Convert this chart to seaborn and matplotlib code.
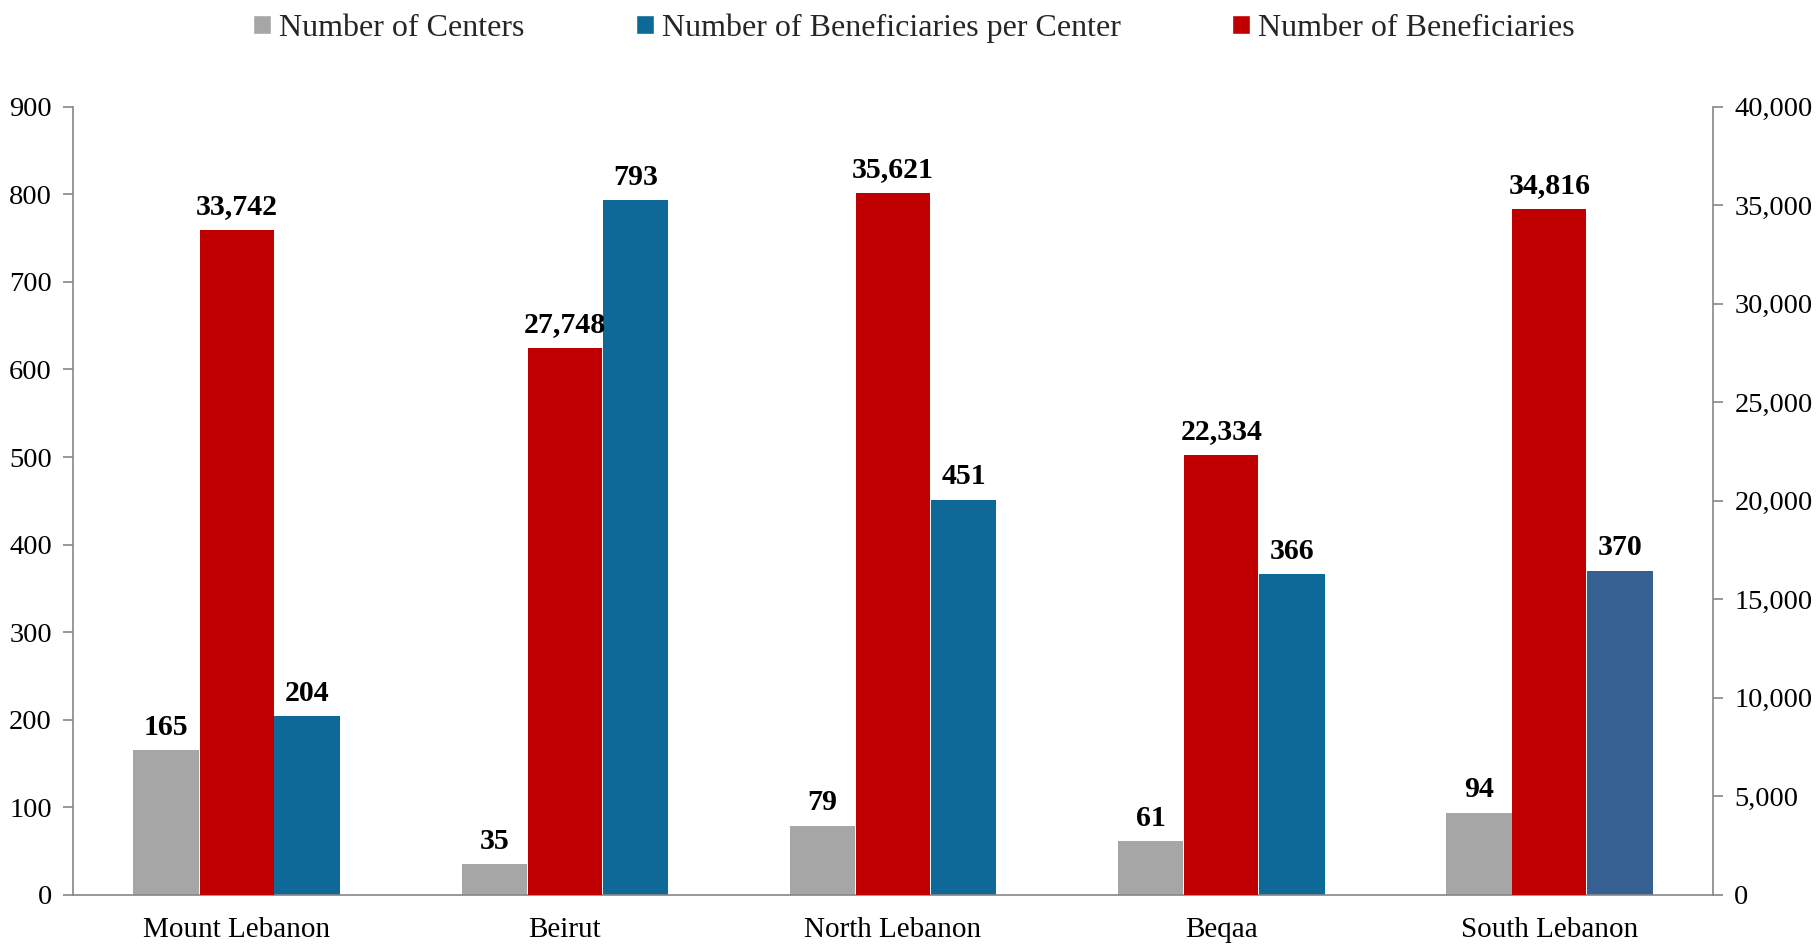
"""Centers and beneficiaries by region, dual-axis grouped bars."""

import matplotlib.pyplot as plt
import numpy as np
import pandas as pd
import seaborn as sns
from matplotlib.patches import Patch
from matplotlib.ticker import FuncFormatter, MultipleLocator

regions = ["Mount Lebanon", "Beirut", "North Lebanon", "Beqaa", "South Lebanon"]
centers = [165, 35, 79, 61, 94]
per_center = [204, 793, 451, 366, 370]
beneficiaries = [33742, 27748, 35621, 22334, 34816]

GRAY = "#a6a6a6"
RED = "#c00000"
BLUE = "#0e6898"
BLUE_LAST = "#366092"
AXIS_GRAY = "#868686"

sns.set_theme(style="white")
plt.rcParams["font.family"] = ["Liberation Serif", "DejaVu Serif"]

pos = np.arange(len(regions))
offset = 0.215
df = pd.DataFrame(
    {
        "region": regions,
        "pos": pos,
        "centers": centers,
        "per_center": per_center,
        "beneficiaries": beneficiaries,
    }
)

fig = plt.figure(figsize=(18.17, 9.44), dpi=100)
ax = fig.add_axes([0.040, 0.052, 0.903, 0.835])
ax2 = ax.twinx()

# primary axis: centers (left of group) and per-center (right of group)
sns.barplot(x=df["pos"] - offset, y=df["centers"], native_scale=True, ax=ax,
            color=GRAY, saturation=1, width=0.2, errorbar=None, linewidth=0)
blue_colors = [BLUE] * (len(regions) - 1) + [BLUE_LAST]
sns.barplot(x=df["pos"] + offset, y=df["per_center"], native_scale=True, ax=ax,
            hue=df["region"], palette=blue_colors, saturation=1, dodge=False,
            legend=False, width=0.2, errorbar=None, linewidth=0)

# secondary axis: total beneficiaries (middle)
sns.barplot(x=df["pos"], y=df["beneficiaries"], native_scale=True, ax=ax2,
            color=RED, saturation=1, width=0.226, errorbar=None, linewidth=0)

lab_kw = dict(ha="center", va="bottom", fontsize=21.5, fontweight="bold",
              color="black", textcoords="offset points", xytext=(0, 7))
for p, c, b, n in zip(pos, centers, per_center, beneficiaries):
    ax.annotate(f"{c}", (p - offset, c), **lab_kw)
    ax.annotate(f"{b}", (p + offset, b), **lab_kw)
    ax2.annotate(f"{n:,}", (p, n), **lab_kw)

ax.set_ylim(0, 900)
ax2.set_ylim(0, 40000)
for a in (ax, ax2):
    a.set_xlim(-0.5, len(regions) - 0.5)
    a.set_xlabel("")
    a.set_ylabel("")
    a.spines["top"].set_visible(False)

ax.yaxis.set_major_locator(MultipleLocator(100))
ax2.yaxis.set_major_locator(MultipleLocator(5000))
ax2.yaxis.set_major_formatter(FuncFormatter(lambda v, _: f"{int(v):,}"))

ax.set_xticks(pos)
ax.set_xticklabels(regions)
ax.set_xticks(np.arange(-0.5, len(regions)), minor=True)
ax.tick_params(axis="x", which="major", length=0, labelsize=21, pad=16,
               labelcolor="black")
ax.tick_params(axis="x", which="minor", length=8, width=1.2, color=AXIS_GRAY,
               direction="out")
ax.tick_params(axis="y", length=7, width=1.2, color=AXIS_GRAY, direction="out",
               labelsize=20.5, labelcolor="black", left=True, pad=8)
ax2.tick_params(axis="y", length=7, width=1.2, color=AXIS_GRAY, direction="out",
                labelsize=20.5, labelcolor="black", right=True, pad=8)

for name in ("left", "bottom"):
    ax.spines[name].set_color(AXIS_GRAY)
    ax.spines[name].set_linewidth(1.2)
ax.spines["right"].set_visible(False)
ax2.spines["right"].set_color(AXIS_GRAY)
ax2.spines["right"].set_linewidth(1.2)
ax2.spines["left"].set_visible(False)
ax2.spines["bottom"].set_visible(False)
ax2.grid(False)
ax.grid(False)

handles = [
    Patch(facecolor=GRAY, label="Number of Centers"),
    Patch(facecolor=BLUE, label="Number of Beneficiaries per Center"),
    Patch(facecolor=RED, label="Number of Beneficiaries"),
]
fig.legend(handles=handles, loc="center", bbox_to_anchor=(0.503, 0.970), ncol=3,
           frameon=False, fontsize=23, handlelength=0.55, handleheight=0.55,
           handletextpad=0.25, columnspacing=3.5)

fig.savefig("out.png", dpi=100)
